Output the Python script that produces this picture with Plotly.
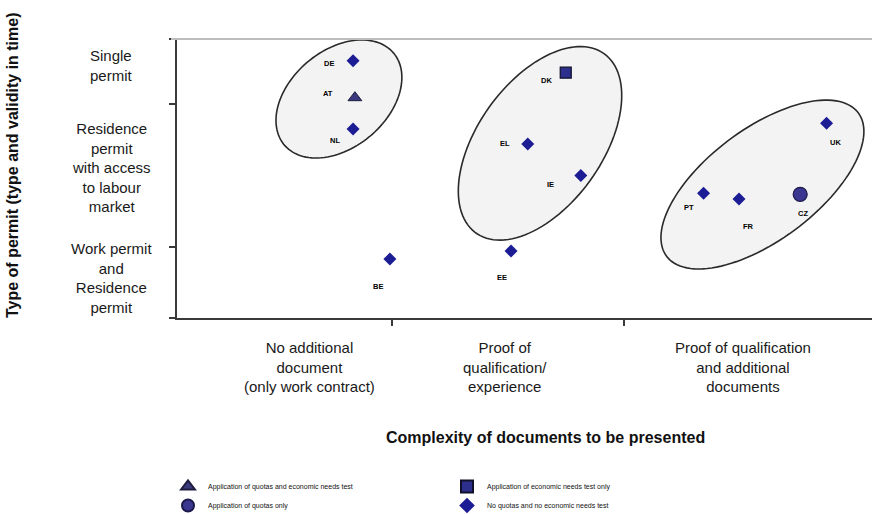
import numpy as np
import plotly.graph_objects as go

# ---------------- data ----------------
countries = ["DE", "AT", "NL", "BE", "EE", "EL", "IE", "DK", "UK", "PT", "FR", "CZ"]
complexity = [0.830, 0.838, 0.830, 0.989, 1.512, 1.584, 1.813, 1.748, 2.874, 2.343, 2.496, 2.760]
permit_type = [2.767, 2.369, 2.032, 0.634, 0.720, 1.871, 1.532, 2.638, 2.094, 1.341, 1.280, 1.330]
regime = ["none", "quota_ent", "none", "none", "none", "none", "none", "ent",
          "none", "none", "none", "quota"]

regime_names = {
    "quota_ent": "Application of quotas and economic needs test",
    "ent": "Application of economic needs test only",
    "quota": "Application of quotas only",
    "none": "No quotas and no economic needs test",
}
legend_order = ["quota_ent", "ent", "quota", "none"]

x_category_labels = ["No additional<br>document<br>(only work contract)",
                     "Proof of<br>qualification/<br>experience",
                     "Proof of qualification<br>and additional<br>documents"]
y_category_labels = ["Work permit<br>and<br>Residence<br>permit",
                     "Residence<br>permit<br>with access<br>to labour<br>market",
                     "Single<br>permit"]
x_title = "Complexity of documents to be presented"
y_title = "Type of permit (type and validity in time)"

# ---------------- layout / style ----------------
W, H = 872, 514
ML, MR, MT, MB = 177, 0, 39, 196
X_RANGE = [0.07, 3.07]
Y_RANGE = [0.0, 3.0]
x_ticks = [1.0, 2.0]
y_ticks = [0.0, 0.763, 2.301, 3.0]
x_label_pos = [0.644, 1.486, 2.513]
y_label_pos = [0.430, 1.618, 2.710]

styles = {
    "quota_ent": dict(symbol="triangle-up", size=12, color="#3b3a7e", line=dict(color="#1c1c40", width=1)),
    "ent": dict(symbol="square", size=11, color="#2c2f8c", line=dict(color="#10102a", width=1.2)),
    "quota": dict(symbol="circle", size=14, color="#3b3690", line=dict(color="#1c1a4a", width=1.2)),
    "none": dict(symbol="diamond", size=10, color="#1c1c95", line=dict(color="#1c1c95", width=0)),
}
# label offsets in pixels (dx right, dy down)
label_offsets = {"DE": (-24, 3), "AT": (-27, -4), "NL": (-18, 11), "BE": (-12, 27),
                 "EE": (-9, 26), "EL": (-23, -1), "IE": (-30, 9), "DK": (-19, 8),
                 "UK": (9, 19), "PT": (-15, 14), "FR": (9, 28), "CZ": (3, 19)}

# grouping ellipses: centre (data), semi-axes (px), tilt (deg)
groups = [
    dict(cx=0.769, cy=2.355, a=71.4, b=48.5, ang=40.0),
    dict(cx=1.637, cy=1.878, a=110.2, b=62.4, ang=54.5),
    dict(cx=2.597, cy=1.435, a=119.7, b=55.7, ang=36.8),
]

plot_w = W - ML - MR
plot_h = H - MT - MB
px_x = plot_w / (X_RANGE[1] - X_RANGE[0])
px_y = plot_h / (Y_RANGE[1] - Y_RANGE[0])

fig = go.Figure()

# ellipses
t = np.linspace(0, 2 * np.pi, 120)
for g in groups:
    th = np.deg2rad(g["ang"])
    X = g["a"] * np.cos(t) * np.cos(th) - g["b"] * np.sin(t) * np.sin(th)
    Y = g["a"] * np.cos(t) * np.sin(th) + g["b"] * np.sin(t) * np.cos(th)
    ex = g["cx"] + X / px_x
    ey = g["cy"] + Y / px_y
    path = "M " + " L ".join(f"{a:.4f},{b:.4f}" for a, b in zip(ex, ey)) + " Z"
    fig.add_shape(type="path", path=path, xref="x", yref="y", layer="below",
                  fillcolor="#f3f3f3", line=dict(color="#2a2a2a", width=1.6))

# points per regime
for key in legend_order:
    idx = [i for i, r in enumerate(regime) if r == key]
    st = styles[key]
    fig.add_trace(go.Scatter(
        x=[complexity[i] for i in idx], y=[permit_type[i] for i in idx],
        mode="markers", name=regime_names[key], cliponaxis=False,
        marker=dict(symbol=st["symbol"], size=st["size"], color=st["color"], line=st["line"]),
        hoverinfo="skip",
    ))

# country labels
for c, xv, yv in zip(countries, complexity, permit_type):
    dx, dy = label_offsets[c]
    fig.add_annotation(x=xv, y=yv, text=f"<b>{c}</b>", showarrow=False, xshift=dx, yshift=-dy,
                       font=dict(family="Liberation Sans, Arial", size=7.5, color="#000000"))

# category labels
for txt, xv in zip(x_category_labels, x_label_pos):
    fig.add_annotation(x=xv, xref="x", y=(318 - 366.5) / plot_h, yref="paper", text=txt,
                       showarrow=False, align="center", xanchor="center", yanchor="middle",
                       font=dict(family="Liberation Sans, Arial", size=15, color="#1a1a1a"))
for txt, yv in zip(y_category_labels, y_label_pos):
    fig.add_annotation(x=(111 - ML) / plot_w, xref="paper", y=yv, yref="y", text=txt,
                       showarrow=False, align="center", xanchor="center", yanchor="middle",
                       font=dict(family="Liberation Sans, Arial", size=15, color="#1a1a1a"))

# axis titles
fig.add_annotation(x=(545 - ML) / plot_w, xref="paper", y=(318 - 437) / plot_h, yref="paper",
                   text=f"<b>{x_title}</b>", showarrow=False, xanchor="center", yanchor="middle",
                   font=dict(family="Liberation Sans, Arial", size=16, color="#111111"))
fig.add_annotation(x=(12 - ML) / plot_w, xref="paper", y=(318 - 165) / plot_h, yref="paper",
                   text=f"<b>{y_title}</b>", showarrow=False, textangle=-90,
                   xanchor="center", yanchor="middle",
                   font=dict(family="Liberation Sans, Arial", size=16, color="#111111"))

# top border line
fig.add_shape(type="line", xref="paper", yref="paper", x0=-6 / plot_w, x1=1, y0=1, y1=1,
              line=dict(color="#bdbdbd", width=2))

fig.update_xaxes(range=X_RANGE, showgrid=False, zeroline=False, showline=True,
                 linecolor="#3a3a3a", linewidth=2, ticks="outside", tickvals=x_ticks,
                 ticklen=6, tickcolor="#3a3a3a", tickwidth=1.5, showticklabels=False, fixedrange=True)
fig.update_yaxes(range=Y_RANGE, showgrid=False, zeroline=False, showline=True,
                 linecolor="#3a3a3a", linewidth=2, ticks="outside", tickvals=y_ticks,
                 ticklen=6, tickcolor="#3a3a3a", tickwidth=1.5, showticklabels=False, fixedrange=True)

fig.update_layout(
    width=W, height=H,
    margin=dict(l=ML, r=MR, t=MT, b=MB, autoexpand=False),
    plot_bgcolor="white", paper_bgcolor="white",
    showlegend=True,
    legend=dict(orientation="h", xref="container", yref="container",
                x=(168) / W, y=1 - 472 / H, xanchor="left", yanchor="top",
                entrywidth=234, entrywidthmode="pixels", traceorder="normal",
                font=dict(family="Liberation Sans, Arial", size=7, color="#111111"),
                itemsizing="constant", bgcolor="rgba(0,0,0,0)", tracegroupgap=0),
)

fig.write_html("out.html", config={"displayModeBar": False},
               post_script="document.body.style.margin='0px';document.body.style.overflow='hidden';")
